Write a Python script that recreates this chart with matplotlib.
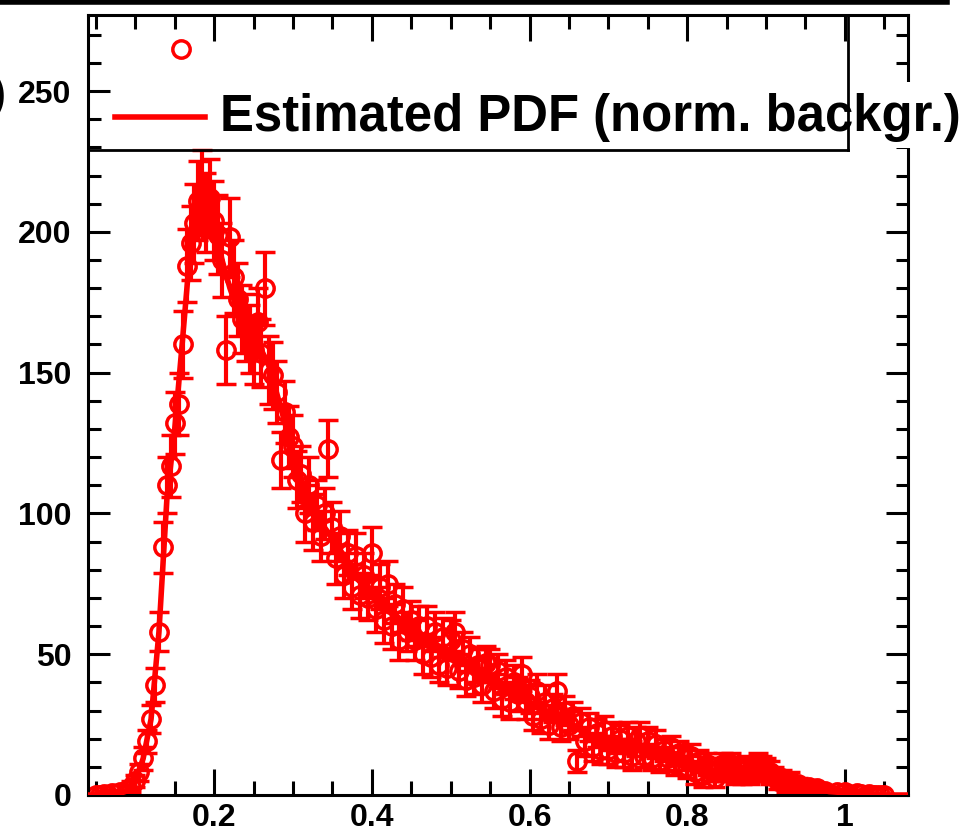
import numpy as np
import matplotlib
matplotlib.use("Agg")
import matplotlib.pyplot as plt
from matplotlib.ticker import MultipleLocator
from matplotlib.lines import Line2D
from matplotlib.patches import Rectangle

plt.rcParams["font.family"] = ["Liberation Sans", "DejaVu Sans"]
plt.rcParams["font.weight"] = "bold"

# histogram: bins of width 0.005 starting at 0.05
x_first = 0.050
bin_w = 0.005
counts = [
    0, 0, 0.4, 0, 0.6, -1.5, 0.9, -1.2, 1.8, 3,
    5, 8, 13, 19, 27, 39, 58, 88, 110, 117,
    132, 139, 160, 188, 196, 203, 211, 214, 207, 212,
    204, 199, 190, 158, 198, 184, 176, 169, 166, 162,
    158, 168, 157, 180, 151, 149, 143, 119, 136, 127,
    124, 112, 114, 100, 110, 97, 103, 92, 100, 123,
    95, 84, 92, 78, 86, 74, 85, 71, 78, 70,
    86, 66, 74, 62, 75, 60, 68, 55, 66, 58,
    62, 55, 60, 50, 60, 49, 58, 46, 56, 45,
    55, 58, 44, 52, 41, 50, 42, 46, 39, 47,
    46, 37, 44, 34, 42, 33, 40, 36, 43, 33,
    35, 28, 37, 27, 33, 25, 31, 37, 24, 30,
    25, 28, 12, 26, 19, 24, 17, 22, 16, 23,
    16, 21, 15, 20, 15, 21, 14, 19, 21, 14,
    19, 13, 18, 12, 16, 13, 17, 11, 15, 13,
    10, 14, 8, 12, 7, 11, 9, 6, 9, 11,
    9, 11, 8, 9, 7, 10, 8, 9, 11, 10,
    9, 8, 7, 5, 6, 4, 5, 3, 4, 2,
    -1.5, 3, 2, 2.5, 1, 1.5, 0.5, -1, 1, 0.5,
    1.2, 0.4, -0.8, 0.6, 0.3, -0.5, 0.2, 0, 0, 0, 0,
]
errors = [
    0.5, 0.5, 1, 0.5, 1, 1.5, 1, 1.5, 1.5, 2,
    2, 3, 4, 4, 5, 6, 7, 9, 10, 11,
    11, 11, 12, 13, 13, 14, 14, 15, 14, 14,
    14, 14, 13, 12, 14, 13, 13, 12, 12, 12,
    12, 12, 12, 13, 12, 12, 11, 10, 11, 11,
    11, 10, 10, 10, 10, 10, 9, 9, 9, 10,
    9, 9, 9, 8, 8, 8, 8, 8, 8, 8,
    9, 8, 8, 8, 8, 8, 7, 7, 8, 7,
    7, 7, 7, 7, 7, 7, 7, 6, 7, 6,
    7, 7, 6, 6, 6, 6, 6, 6, 6, 6,
    6, 6, 6, 6, 6, 6, 6, 6, 6, 6,
    6, 5, 6, 5, 6, 5, 5, 6, 5, 5,
    5, 5, 4, 5, 5, 5, 5, 5, 5, 5,
    5, 5, 5, 5, 5, 5, 5, 5, 5, 4,
    5, 4, 5, 4, 4, 4, 4, 4, 4, 4,
    4, 4, 4, 4, 4, 4, 4, 3, 4, 4,
    4, 4, 4, 4, 3, 4, 4, 4, 4, 4,
    4, 4, 3, 3, 3, 3, 3, 2, 2, 1.5,
    1.5, 2, 1.5, 1.5, 1, 1.5, 1, 1, 1, 1,
    1, 1, 1, 1, 1, 1, 0.5, 0.5, 0.5, 0.5, 0.5,
]
x_bins = x_first + bin_w * np.arange(len(counts))

# estimated PDF (normalised background)
pdf_x = [0.04, 0.05, 0.06, 0.07, 0.08, 0.09, 0.10, 0.11, 0.12, 0.13,
         0.14, 0.15, 0.16, 0.17, 0.18, 0.19, 0.20, 0.21, 0.22, 0.23,
         0.24, 0.25, 0.26, 0.27, 0.28, 0.29, 0.30, 0.31, 0.32, 0.33,
         0.34, 0.35, 0.36, 0.37, 0.38, 0.39, 0.40, 0.42, 0.44, 0.46,
         0.48, 0.50, 0.52, 0.54, 0.56, 0.58, 0.60, 0.62, 0.64, 0.66,
         0.68, 0.70, 0.72, 0.74, 0.76, 0.78, 0.80, 0.82, 0.84, 0.86,
         0.88, 0.90, 0.92, 0.94, 0.96, 0.98, 1.00, 1.02, 1.04, 1.06, 1.08]
pdf_y = [0, 0, 0, 0.2, 0.5, 1.5, 5, 13, 27, 58,
         105, 130, 162, 195, 208, 210, 203, 190, 180, 172,
         166, 162, 158, 152, 142, 132, 121, 111, 105, 99,
         95, 91, 87, 82, 78, 74, 71, 67, 61, 57,
         53, 50, 46, 43, 39, 37, 33, 30, 27, 24,
         21, 19, 17, 16, 14.5, 13, 11, 9.5, 8.5, 8.5,
         8.5, 8, 6, 4, 2.5, 1.2, 0.8, 0.3, 0, 0, 0]

W, H = 966, 832
fig = plt.figure(figsize=(W / 100, H / 100), dpi=100)
ax = fig.add_axes([88 / W, (H - 795) / H, (908 - 88) / W, (795 - 15) / H])

ax.errorbar(x_bins, counts, yerr=errors, fmt='o', ms=12.5, mfc='none', mec='red',
            mew=2.5, ecolor='red', elinewidth=3, capsize=7, capthick=3, zorder=2)
ax.plot(pdf_x, pdf_y, color='red', lw=4, zorder=3)

ax.set_xlim(0.04, 1.08)
ax.set_ylim(0, 277)
ax.xaxis.set_major_locator(MultipleLocator(0.2))
ax.xaxis.set_minor_locator(MultipleLocator(0.05))
ax.yaxis.set_major_locator(MultipleLocator(50))
ax.yaxis.set_minor_locator(MultipleLocator(10))
ax.xaxis.set_major_formatter(plt.FuncFormatter(lambda v, p: "%g" % round(v, 2)))

ax.tick_params(which='both', direction='in', top=True, right=True, width=2.2, colors='black')
ax.tick_params(axis='x', which='major', length=19, labelsize=23, pad=6)
ax.tick_params(axis='x', which='minor', length=10)
ax.tick_params(axis='y', which='major', length=16, labelsize=23, pad=12)
ax.tick_params(axis='y', which='minor', length=9)
for lab in ax.get_xticklabels() + ax.get_yticklabels():
    lab.set_fontweight('bold')
for s in ax.spines.values():
    s.set_linewidth(2.2)


def fx(px):
    return px / W


def fy(py):
    return 1 - py / H


# legend box (hand made, ROOT-like)
fig.add_artist(Line2D([fx(88), fx(848)], [fy(150), fy(150)], color='black', lw=2))
fig.add_artist(Line2D([fx(848), fx(848)], [fy(15), fy(150)], color='black', lw=2))
fig.add_artist(Line2D([fx(181)], [fy(49)], marker='o', ms=12.5, mfc='none', mec='red', mew=2.5, ls=''))
fig.add_artist(Rectangle((fx(212), fy(148)), fx(966) - fx(212), fy(82) - fy(148),
                         transform=fig.transFigure, facecolor='white', edgecolor='none'))
fig.add_artist(Line2D([fx(115), fx(205)], [fy(117), fy(117)], color='red', lw=4))
fig.text(fx(220), fy(117), "Estimated PDF (norm. backgr.)", fontsize=36.6,
         fontweight='bold', ha='left', va='center')

# top frame of the canvas and cut y-title
fig.add_artist(Line2D([0, fx(947)], [fy(2), fy(2)], color='black', lw=4))
fig.text(fx(-8), fy(96), ")", fontsize=30, fontweight='bold', ha='left', va='center')

plt.savefig("out.png", dpi=100)
plt.close()
